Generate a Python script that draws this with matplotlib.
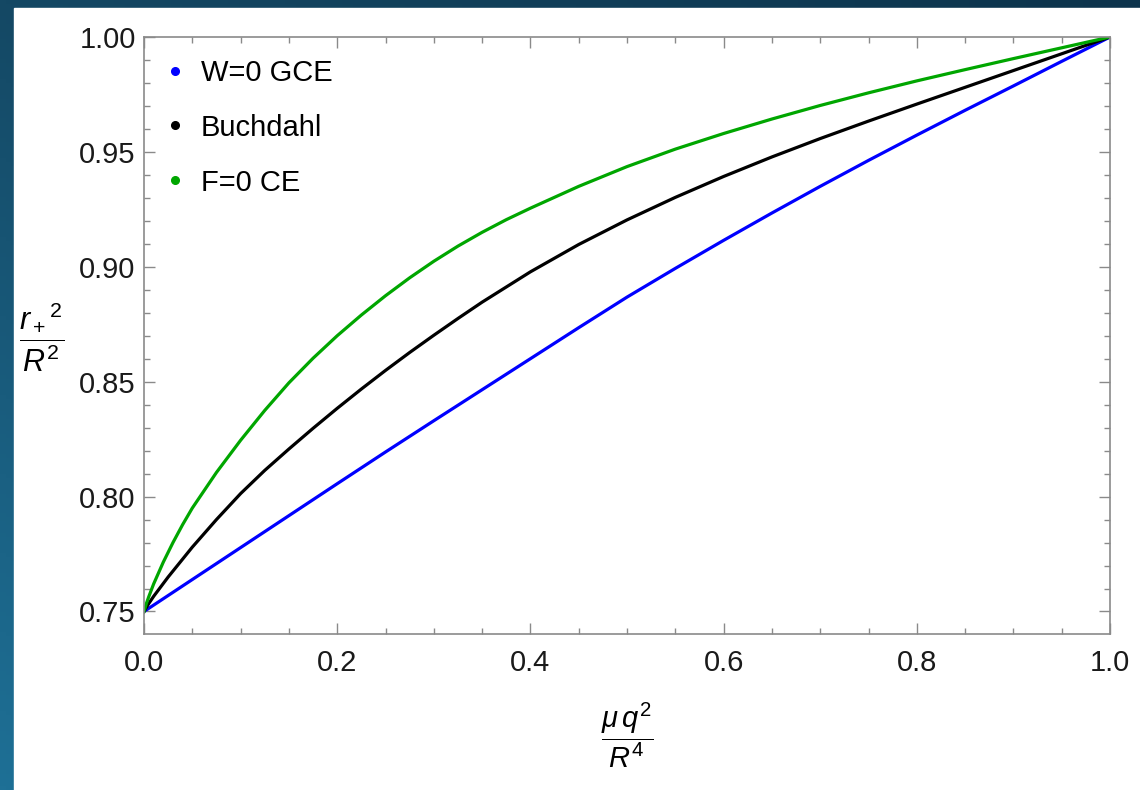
import numpy as np
import matplotlib
matplotlib.use("Agg")
import matplotlib.pyplot as plt
from matplotlib.lines import Line2D
from matplotlib.patches import Rectangle
from matplotlib.ticker import MultipleLocator, FormatStrFormatter

plt.rcParams['font.family'] = ['Liberation Sans', 'DejaVu Sans']
plt.rcParams['mathtext.fontset'] = 'custom'
plt.rcParams['mathtext.rm'] = 'Liberation Sans'
plt.rcParams['mathtext.it'] = 'Liberation Sans:italic'

# values (x = mu q^2 / R^4, y = r_+^2 / R^2)
x_blue = [0.0, 0.05, 0.1, 0.15, 0.2, 0.25, 0.3, 0.35, 0.4, 0.45, 0.5, 0.55, 0.6, 0.65,
          0.7, 0.75, 0.8, 0.85, 0.9, 0.95, 1.0]
y_blue = [0.750, 0.7639, 0.7778, 0.7917, 0.8056, 0.8194, 0.833, 0.8465, 0.860, 0.8735,
          0.8868, 0.8993, 0.9115, 0.9234, 0.935, 0.9463, 0.9573, 0.9681, 0.9787, 0.9894, 1.0]

x_black = [0.0, 0.005, 0.01, 0.025, 0.05, 0.075, 0.1, 0.125, 0.15, 0.175, 0.2, 0.225,
           0.25, 0.275, 0.3, 0.325, 0.35, 0.4, 0.45, 0.5, 0.55, 0.6, 0.65, 0.7, 0.75, 0.8,
           0.85, 0.9, 0.95, 1.0]
y_black = [0.750, 0.7535, 0.7566, 0.7650, 0.778, 0.7900, 0.8013, 0.8114, 0.8207, 0.8297,
           0.8384, 0.8468, 0.8549, 0.8627, 0.8702, 0.8775, 0.8846, 0.8978, 0.9097, 0.9204,
           0.9302, 0.9393, 0.9478, 0.9558, 0.9634, 0.9708, 0.9781, 0.9854, 0.9927, 1.0]

x_green = [0.0, 0.0025, 0.005, 0.01, 0.02, 0.03, 0.04, 0.05, 0.075, 0.1, 0.125, 0.15,
           0.175, 0.2, 0.225, 0.25, 0.275, 0.3, 0.325, 0.35, 0.375, 0.4, 0.45, 0.5, 0.55,
           0.6, 0.65, 0.7, 0.75, 0.8, 0.85, 0.9, 0.95, 1.0]
y_green = [0.750, 0.7535, 0.7565, 0.762, 0.7715, 0.780, 0.7878, 0.795, 0.8105, 0.8245,
           0.8375, 0.8495, 0.8602, 0.870, 0.879, 0.8874, 0.8952, 0.9024, 0.909, 0.915,
           0.9205, 0.9255, 0.935, 0.9436, 0.9512, 0.958, 0.9643, 0.9702, 0.9757, 0.9809,
           0.9858, 0.9906, 0.9953, 1.0]

labels = ['W=0 GCE', 'Buchdahl', 'F=0 CE']
colors = ['#0000ff', '#000000', '#00a600']

W, H = 1140, 790
fig = plt.figure(figsize=(W / 100, H / 100), dpi=100)

# dark slide background on the top/left edges
bg = fig.add_axes([0, 0, 1, 1], zorder=-10)
gx, gy = np.meshgrid(np.linspace(0, 1, 200), np.linspace(0, 1, 200))
c_tl = np.array([20, 72, 100]) / 255
c_bl = np.array([30, 112, 150]) / 255
c_tr = np.array([13, 52, 76]) / 255
grad = (c_tl[None, None, :] * (1 - gx[..., None]) * (1 - gy[..., None])
        + c_bl[None, None, :] * gy[..., None] * (1 - gx[..., None])
        + c_tr[None, None, :] * gx[..., None])
bg.imshow(np.clip(grad, 0, 1), extent=[0, 1, 0, 1], aspect='auto', origin='upper')
bg.add_patch(Rectangle((14 / W, 0), 1, 1 - 8 / H, color='white', transform=bg.transAxes))
bg.set_axis_off()

ax = fig.add_axes([144 / W, 1 - 634 / H, (1110 - 144) / W, (634 - 37) / H])
ax.plot(x_blue, y_blue, color=colors[0], lw=2.3, solid_joinstyle='round')
ax.plot(x_black, y_black, color=colors[1], lw=2.3, solid_joinstyle='round')
ax.plot(x_green, y_green, color=colors[2], lw=2.3, solid_joinstyle='round')

ax.set_xlim(0, 1)
ax.set_ylim(0.7402, 1.0)
ax.xaxis.set_major_locator(MultipleLocator(0.2))
ax.xaxis.set_minor_locator(MultipleLocator(0.05))
ax.yaxis.set_major_locator(MultipleLocator(0.05))
ax.yaxis.set_minor_locator(MultipleLocator(0.01))
ax.xaxis.set_major_formatter(FormatStrFormatter('%.1f'))
ax.yaxis.set_major_formatter(FormatStrFormatter('%.2f'))

frame = '#8a8a8a'
for s in ax.spines.values():
    s.set_color(frame)
    s.set_linewidth(1.2)
ax.tick_params(which='both', direction='in', top=True, right=True, color=frame, width=1.0)
ax.tick_params(which='major', length=8)
ax.tick_params(which='minor', length=4.5)
ax.tick_params(axis='x', which='major', labelsize=21, pad=11, labelcolor='#1a1a1a')
ax.tick_params(axis='y', which='major', labelsize=21, pad=6, labelcolor='#1a1a1a')

handles = [Line2D([], [], ls='none', marker='o', markersize=5.5, color=c) for c in colors]
ax.legend(handles, labels, loc='upper left', bbox_to_anchor=(0.0, 1.0), frameon=False,
          fontsize=21, handlelength=0.6, handletextpad=0.6, labelspacing=0.92,
          borderaxespad=0.35, borderpad=0.4)

fig.text(42 / W, 1 - 337 / H, r'$\dfrac{r_+{}^{2}}{R^2}$', fontsize=22, ha='center', va='center')
fig.text(627 / W, 1 - 735 / H, r'$\dfrac{\mu\, q^2}{R^4}$', fontsize=21, ha='center', va='center')

fig.savefig('out.png', dpi=100)
